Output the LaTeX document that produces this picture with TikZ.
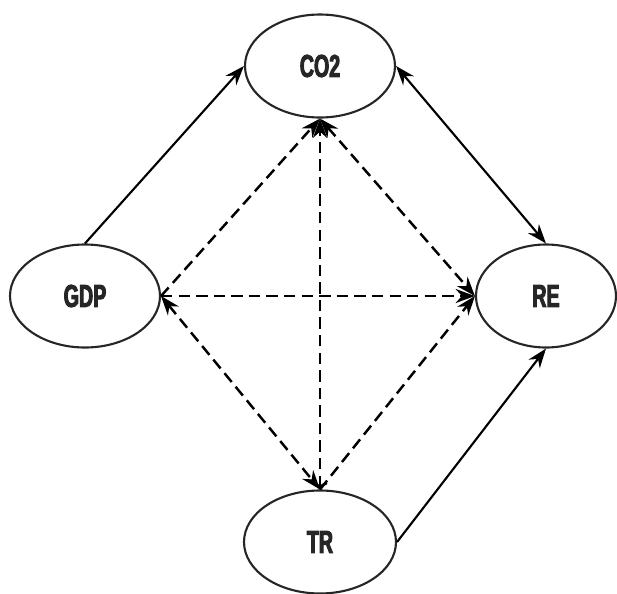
\documentclass[tikz,border=0pt]{standalone}
\usepackage{fontspec}
\newfontfamily\varfont[FakeStretch=0.62,FakeBold=3]{Liberation Sans Bold}
\usetikzlibrary{shapes.geometric,arrows.meta}

\begin{document}
\begin{tikzpicture}[
	line width=1.2pt,
	>={Stealth[length=11pt,width=8pt]}
]
\tikzset{
    varnode/.style = {ellipse, draw=black!85, line width=1.2pt, inner sep=0pt,
                      minimum width=3cm, minimum height=2.06cm,
                      font=\varfont\fontsize{18}{21}\selectfont, text=black!85},
    dashlink/.style = {line width=1.4pt, dash pattern=on 6.5pt off 3.5pt},
}
\useasboundingbox (0,0) rectangle (12.34,-11.88);

\node (CO2) [varnode] at (6.4,-1.32) {CO2};
\node (GDP) [varnode] at (1.7,-5.92) {GDP};
\node (RE) [varnode, minimum width=2.8cm] at (10.92,-5.92) {RE};
\node (TR) [varnode, minimum width=3.04cm] at (6.4,-10.84) {TR};

% solid links
\draw[->] (GDP.north) -- (CO2.west);
\draw[<->] (CO2.east) -- (RE.north);
\draw[->] (TR.east) -- (RE.south);

% dashed links
\draw[dashlink,->] (GDP.east) -- (CO2.south);
\draw[dashlink,->] (GDP.east) -- (RE.west);
\draw[dashlink,<->] (GDP.east) -- (TR.north);
\draw[dashlink,{To[length=4pt]}->] (TR.north) -- (CO2.south);
\draw[dashlink,<->] (CO2.south) -- (RE.west);
\draw[dashlink,->] (TR.north) -- (RE.west);
\end{tikzpicture}
\end{document}
